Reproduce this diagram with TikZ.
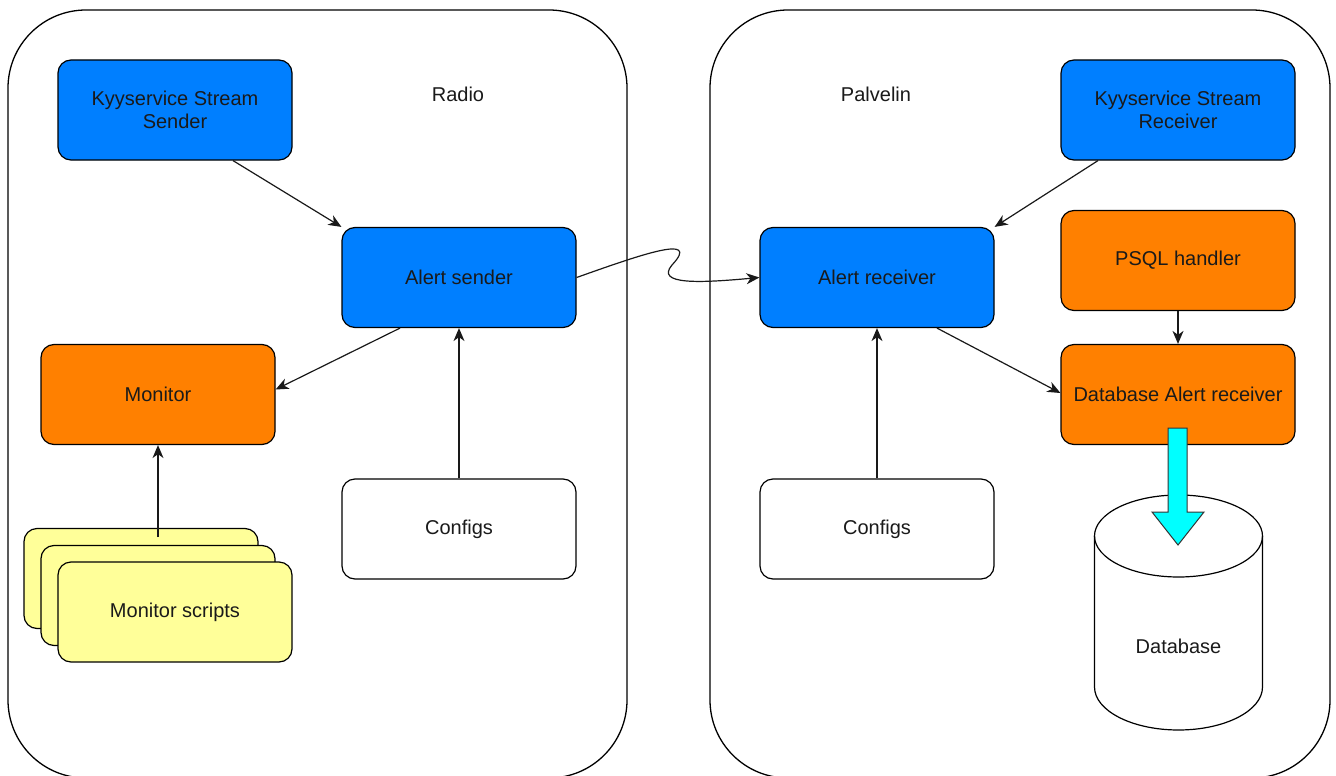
\documentclass[tikz,border=0pt]{standalone}
\usepackage{fontspec}
\setmainfont{Liberation Sans}
\usetikzlibrary{arrows.meta}
\definecolor{boxblue}{HTML}{007FFF}
\definecolor{boxorange}{HTML}{FF8000}
\definecolor{boxyellow}{HTML}{FFFF99}
\definecolor{flowcyan}{HTML}{00FFFF}
\definecolor{inktext}{HTML}{1A1A1A}
\begin{document}
\begin{tikzpicture}[x=1pt,y=-1pt,
  every node/.style={text=inktext,font=\fontsize{20}{23}\selectfont},
  zone/.style={draw=black,line width=1.3pt,rounded corners=78pt},
  card/.style={draw=black,line width=1.2pt,rounded corners=13pt,
    minimum width=234pt,minimum height=100pt,align=center,inner sep=0pt},
  bluecard/.style={card,fill=boxblue},
  orangecard/.style={card,fill=boxorange},
  whitecard/.style={card,fill=white},
  yellowcard/.style={card,fill=boxyellow},
  arr/.style={draw=black!90,line width=1.2pt,
    -{Stealth[length=13pt,width=11pt,inset=4pt]}}
]
\useasboundingbox (0,0) rectangle (1336,776);
\clip (0,0) rectangle (1336,776);
\fill[white] (0,0) rectangle (1336,776);

% the two hosts
\draw[zone] (8,10) rectangle (627,778);
\draw[zone] (710,10) rectangle (1330,778);
\node (radio) at (458,94) {Radio};
\node (palvelin) at (876,94) {Palvelin};

% radio side
\node[bluecard] (ksend) at (175,110) {Kyyservice Stream\\Sender};
\node[bluecard] (asend) at (459,277.5) {Alert sender};
\node[orangecard] (mon) at (158,394.5) {Monitor};
\node[whitecard] (cfgL) at (459,529) {Configs};
\node[yellowcard] (scr3) at (141,578.5) {};
\node[yellowcard] (scr2) at (158,595.5) {};
\node[yellowcard] (scr1) at (175,612) {Monitor scripts};
\coordinate (scrtop) at (158,537);

% server side
\node[bluecard] (krecv) at (1178,110) {Kyyservice Stream\\Receiver};
\node[bluecard] (arecv) at (877,277.5) {Alert receiver};
\node[orangecard] (psql) at (1178,260.5) {PSQL handler};
\node[orangecard] (dbar) at (1178,394.5) {Database Alert receiver};
\node[whitecard] (cfgR) at (877,529) {Configs};

% database cylinder (y axis points down, so angle 90 is below the centre)
\draw[line width=1.2pt,fill=white]
  (1094.5,536) -- (1094.5,687) arc[start angle=180,end angle=0,x radius=84,y radius=43]
  -- (1262.5,536) arc[start angle=360,end angle=180,x radius=84,y radius=41] -- cycle;
\draw[line width=1.2pt] (1094.5,536) arc[start angle=180,end angle=0,x radius=84,y radius=41];
\node (db) at (1178.5,646) {Database};

% connectors
\draw[arr] ([xshift=58pt]ksend.south) -- (asend.north west);
\draw[arr] ([xshift=-59pt]asend.south) -- ([yshift=5pt]mon.east);
\draw[arr] (cfgL.north) -- (asend.south);
\draw[arr] (scrtop) -- (mon.south);
\draw[arr] (asend.east) .. controls (640,255) and (702,233) .. (672,265)
  .. controls (655,285) and (700,283) .. (arecv.west);
\draw[arr] ([xshift=-80pt]krecv.south) -- (arecv.north east);
\draw[arr] ([xshift=60pt]arecv.south) -- ([yshift=1.5pt]dbar.west);
\draw[arr] (cfgR.north) -- (arecv.south);
\draw[arr] (psql.south) -- (dbar.north);

% block arrow into the database
\draw[fill=flowcyan,draw=black!80,line width=1pt]
  (1168,428) -- (1187,428) -- (1187,512) -- (1204,512) -- (1178,545)
  -- (1152,512) -- (1168,512) -- cycle;
\end{tikzpicture}
\end{document}
